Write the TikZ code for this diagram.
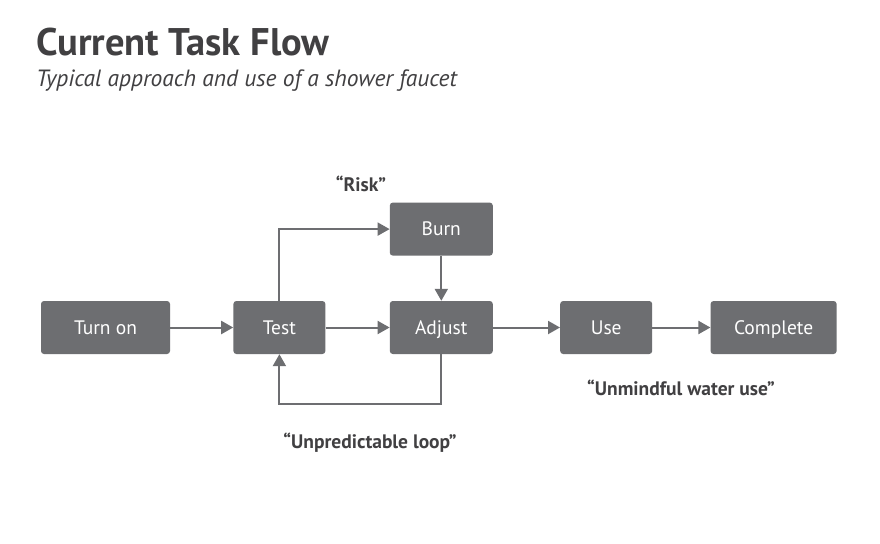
\documentclass[tikz,border=0pt]{standalone}
\usepackage{fontspec}
\setmainfont{PT Sans}
\usetikzlibrary{arrows.meta, positioning}
\definecolor{boxgray}{HTML}{6D6E71}
\definecolor{textgray}{HTML}{414042}
\tikzset{
	block/.style = {fill=boxgray, rectangle, rounded corners=3pt, minimum height=53pt, text=white, text height=15pt, text depth=2pt, font=\fontsize{19.5}{22}\selectfont},
	arrow/.style = {-{Triangle[length=12pt, width=13pt]}, line width=2pt, draw=boxgray},
	quote/.style = {text=textgray, font=\bfseries\fontsize{19.5}{22}\selectfont},
}
\begin{document}
\begin{tikzpicture}[x=1pt, y=-1pt]
			\useasboundingbox[fill=white] (0,0) rectangle (880,543);
			
			% Heading
			\node[anchor=base west, inner sep=0pt, text=textgray, font=\bfseries\fontsize{38.5}{42}\selectfont] (title) at (36,56) {Current Task Flow};
			\node[anchor=base west, inner sep=0pt, text=textgray, font=\itshape\fontsize{23.5}{26}\selectfont] (sub) at (36,86) {Typical approach and use of a shower faucet};
			
			% Steps
			\node[block, minimum width=129pt] (on) at (105.5,327.5) {Turn on};
			\node[block, minimum width=92pt, right=63pt of on] (test) {Test};
			\node[block, minimum width=103pt, right=64pt of test] (adjust) {Adjust};
			\node[block, minimum width=92pt, right=67pt of adjust] (use) {Use};
			\node[block, minimum width=126pt, right=58pt of use] (done) {Complete};
			\node[block, minimum width=103pt, above=45pt of adjust] (burn) {Burn};
			
			% Remarks
			\node[quote] (risk) at (361,184) {``Risk''};
			\node[quote] (loop) at (370,443) {``Unpredictable loop''};
			\node[quote] (waste) at (681,388) {``Unmindful water use''};
			
			% Connections
			\draw[arrow] (on) -- (test);
			\draw[arrow] (test) -- (adjust);
			\draw[arrow] (adjust) -- (use);
			\draw[arrow] (use) -- (done);
			\draw[arrow] (test.north) |- (burn.west);
			\draw[arrow] (burn) -- (adjust);
			\draw[arrow] (adjust.south) -- ++(0,50) -| (test.south);
			
\end{tikzpicture}
\end{document}
